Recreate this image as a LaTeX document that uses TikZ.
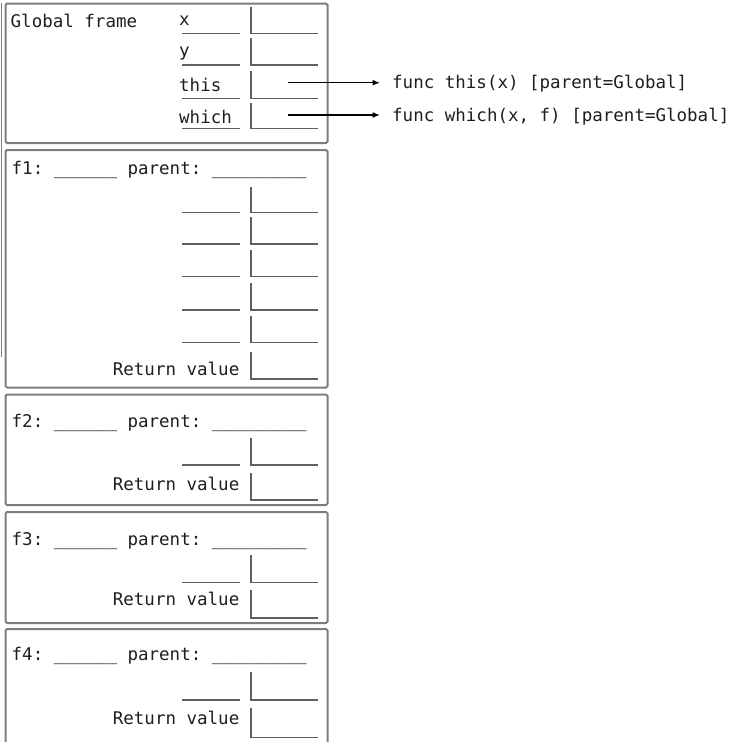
\documentclass[tikz,border=0pt]{standalone}
\usepackage{fontspec}
\setmonofont{DejaVu Sans Mono}
\usetikzlibrary{arrows.meta}
\definecolor{framegray}{RGB}{125,125,125}
\definecolor{slotgray}{RGB}{95,95,95}
\definecolor{ink}{RGB}{30,30,30}
\newcommand{\mymono}{\ttfamily\fontsize{17.5}{20}\selectfont}
\newcommand{\ux}{\textunderscore}
\newcommand{\usix}{\ux\ux\ux\ux\ux\ux}
\newcommand{\unine}{\ux\ux\ux\ux\ux\ux\ux\ux\ux}
\newcommand{\slotrow}[2]{%
  \draw[slot] (182,#2) -- (240,#2);
  \draw[slot] (251,#1) -- (251,#2) -- (318,#2);}
\newcommand{\retrow}[2]{%
  \draw[slot] (251,#1) -- (251,#2) -- (318,#2);}
\begin{document}
\begin{tikzpicture}[x=1pt,y=-1pt,
  frame/.style={draw=framegray, line width=2pt, rounded corners=1.5pt},
  slot/.style={draw=slotgray, line width=1.5pt},
  txt/.style={font=\mymono, text=ink, inner sep=0pt, anchor=base west},
  rtxt/.style={txt, anchor=base east},
  ptr/.style={draw=black, line width=1.4pt, -{Latex[length=7.5pt,width=6pt]}, shorten >=12pt}]
\useasboundingbox (0,0) rectangle (730,742);

% stray left line
\draw[draw=framegray, line width=1.5pt] (1.5,3) -- (1.5,357);

% frames
\draw[frame] (5.5,3.5) rectangle (327.5,143);
\draw[frame] (5.5,150) rectangle (327.5,387.5);
\draw[frame] (5.5,394.5) rectangle (327.5,505);
\draw[frame] (5.5,512) rectangle (327.5,623);
\draw[frame] (5.5,629) rectangle (327.5,752);

% Global frame
\node[txt] (gf) at (10.5,27) {Global frame};
\node[txt] (nx) at (179,25) {x};
\node[txt] (ny) at (179,56.5) {y};
\node[txt] (nthis) at (179,91.5) {this};
\node[txt] (nwhich) at (179,123) {which};
\slotrow{6.7}{33.3}
\slotrow{38.3}{65}
\slotrow{70.7}{98.3}
\slotrow{102.7}{128.3}

% pointers
\coordinate (thisptr) at (288,82.7);
\coordinate (whichptr) at (288,115);
\node[txt] (thisfn) at (392,88.3) {func this(x) [parent=Global]};
\node[txt] (whichfn) at (392,121.5) {func which(x, f) [parent=Global]};
\draw[ptr] (thisptr) -- (thisptr -| thisfn.west);
\draw[ptr] (whichptr) -- (whichptr -| whichfn.west);

% f1
\node[txt] (h1) at (11.5,174.5) {f1: \usix{} parent: \unine};
\slotrow{186.7}{212.7}
\slotrow{217.3}{244}
\slotrow{250}{276.7}
\slotrow{283.3}{310}
\slotrow{316}{342.7}
\node[rtxt] (r1) at (239.5,375.5) {Return value};
\retrow{352}{379}

% f2
\node[txt] (h2) at (11.5,427.5) {f2: \usix{} parent: \unine};
\slotrow{438}{465}
\node[rtxt] (r2) at (239.5,490) {Return value};
\retrow{473}{500}

% f3
\node[txt] (h3) at (11.5,545.5) {f3: \usix{} parent: \unine};
\slotrow{555}{582.5}
\node[rtxt] (r3) at (239.5,605) {Return value};
\retrow{590}{618}

% f4
\node[txt] (h4) at (11.5,660) {f4: \usix{} parent: \unine};
\slotrow{672}{700}
\node[rtxt] (r4) at (239.5,724) {Return value};
\retrow{708}{737.5}
\end{tikzpicture}
\end{document}
